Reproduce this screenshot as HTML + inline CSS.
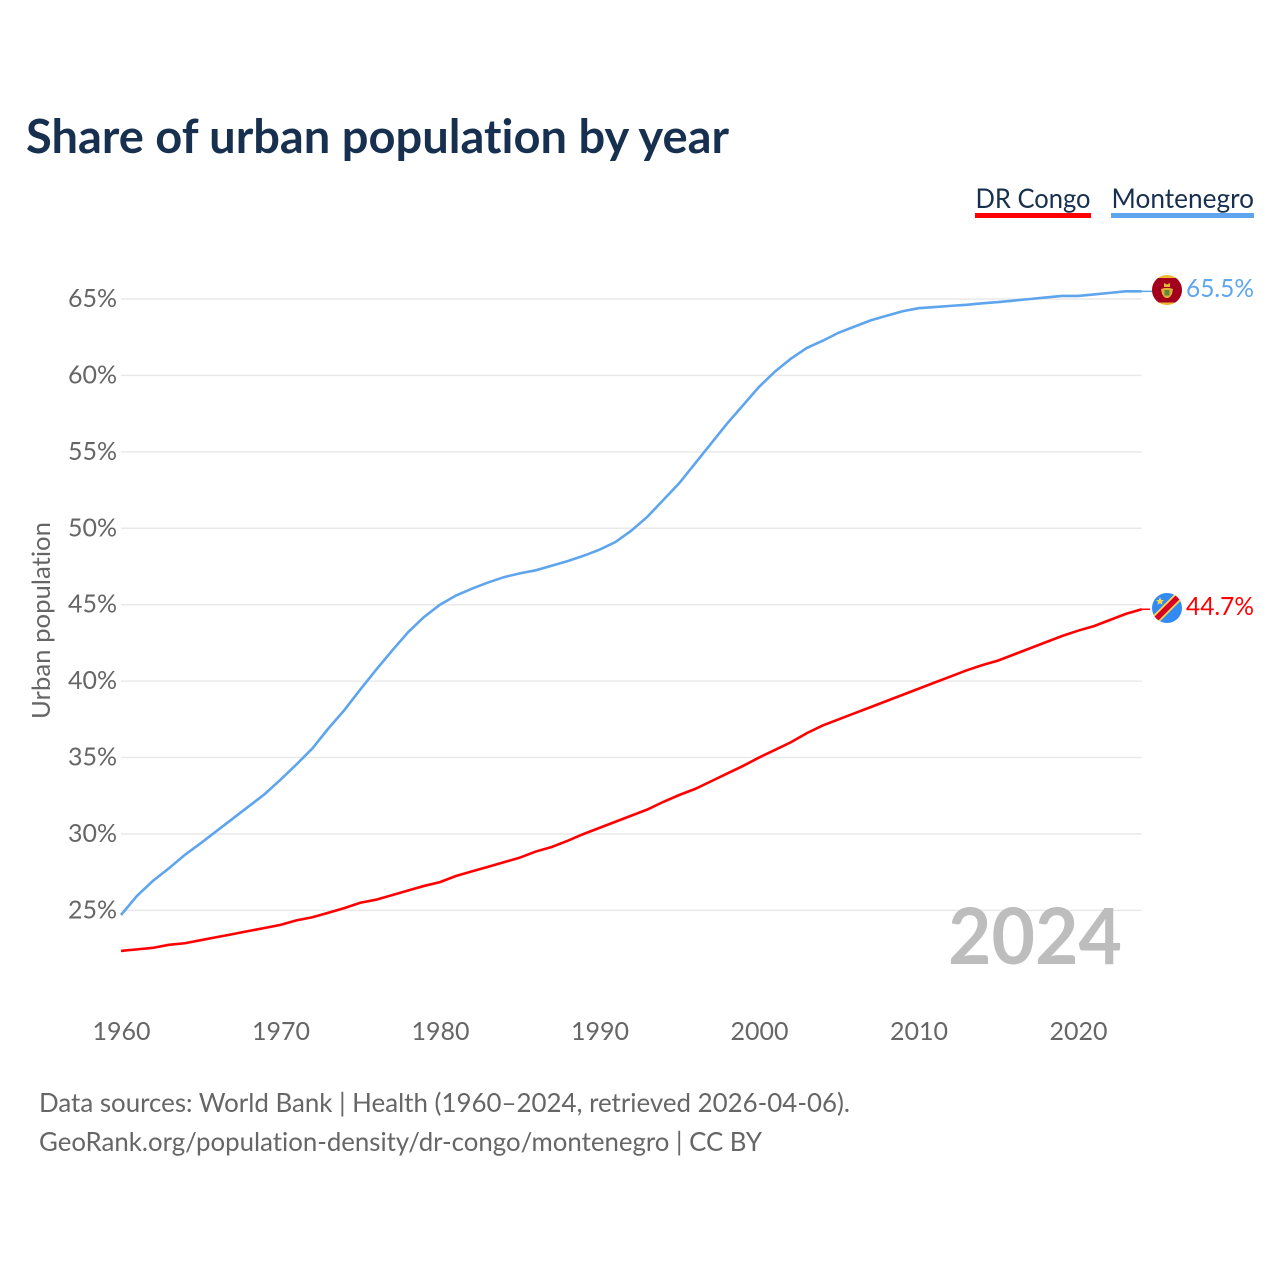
<!DOCTYPE html>
<html lang="en">
<head>
<meta charset="utf-8">
<title>Share of urban population by year</title>
<style>
html,body{margin:0;padding:0;background:#fff;}
svg{display:block;font-family:"Lato","Carlito","Liberation Sans",sans-serif;font-variant-ligatures:none;font-feature-settings:"liga" 0,"clig" 0;}
</style>
</head>
<body>
<svg id="chart" xmlns="http://www.w3.org/2000/svg" width="1280" height="1280" viewBox="0 0 1280 1280">
<rect x="0" y="0" width="1280" height="1280" fill="#ffffff"/>
<text x="26" y="153" font-size="47" font-weight="700" fill="#18304f" textLength="703" lengthAdjust="spacingAndGlyphs">Share of urban population by year</text>

<g>
<g>
<text x="975.5" y="208" font-size="27.5" fill="#18304f" textLength="115" lengthAdjust="spacingAndGlyphs">DR Congo</text>
<rect x="975" y="213" width="116" height="5" fill="#ff0000"/>
</g>
<g>
<text x="1111.5" y="208" font-size="27.5" fill="#18304f" textLength="142.5" lengthAdjust="spacingAndGlyphs">Montenegro</text>
<rect x="1111" y="213" width="143" height="5" fill="#5ea5ee"/>
</g>
</g>

<g id="grid"></g>
<g id="yticks"></g>
<g id="xticks"></g>
<text transform="translate(50,620.5) rotate(-90)" text-anchor="middle" font-size="25.5" fill="#666666" textLength="197" lengthAdjust="spacingAndGlyphs">Urban population</text>

<text x="948" y="964" font-size="78" font-weight="700" fill="#bdbdbd" textLength="174" lengthAdjust="spacingAndGlyphs">2024</text>

<g id="series"></g>

<g>
<clipPath id="clip-me"><circle cx="1167" cy="290" r="15"/></clipPath>
<g clip-path="url(#clip-me)">
<rect x="1152" y="275" width="30" height="30" fill="#f2b632"/>
<rect x="1150" y="278" width="34" height="24.5" fill="#a2001d"/>
<polygon points="1164,283 1167,284.5 1170,283 1170,287 1164,287" fill="#e8b83c"/>
<polygon points="1161,289 1164.5,288 1169.5,288 1173,289 1172,294 1170,297 1168,298 1166,298 1164,297 1162,294" fill="#e0ad35"/>
<rect x="1164.5" y="290" width="5" height="5.5" fill="#5f8a3a"/>
</g>
</g>
<g>
<clipPath id="clip-cd"><circle cx="1167" cy="608" r="15"/></clipPath>
<g clip-path="url(#clip-cd)">
<rect x="1152" y="593" width="30" height="30" fill="#338af3"/>
<line x1="1150" y1="625" x2="1184" y2="591" stroke="#ffda44" stroke-width="9"/>
<line x1="1150" y1="625" x2="1184" y2="591" stroke="#d80027" stroke-width="5.5"/>
<polygon points="1160,597 1161.2,600 1164,600.2 1161.8,602 1162.6,604.8 1160,603.2 1157.4,604.8 1158.2,602 1156,600.2 1158.8,600" fill="#ffda44"/>
</g>
</g>

<text x="1186" y="297" font-size="25.5" fill="#5ea5ee" textLength="68" lengthAdjust="spacingAndGlyphs">65.5%</text>
<text x="1186" y="615" font-size="25.5" fill="#ff0000" textLength="68" lengthAdjust="spacingAndGlyphs">44.7%</text>

<text x="39" y="1112" font-size="26" fill="#666666" textLength="811" lengthAdjust="spacingAndGlyphs">Data sources: World Bank | Health (1960–2024, retrieved 2026-04-06).</text>
<text x="39" y="1151" font-size="26" fill="#666666" textLength="723" lengthAdjust="spacingAndGlyphs">GeoRank.org/population-density/dr-congo/montenegro | CC BY</text>
</svg>

<script>
const years = [1960,1961,1962,1963,1964,1965,1966,1967,1968,1969,1970,1971,1972,1973,1974,1975,1976,1977,1978,1979,1980,1981,1982,1983,1984,1985,1986,1987,1988,1989,1990,1991,1992,1993,1994,1995,1996,1997,1998,1999,2000,2001,2002,2003,2004,2005,2006,2007,2008,2009,2010,2011,2012,2013,2014,2015,2016,2017,2018,2019,2020,2021,2022,2023,2024];
const montenegroValues = [24.7,25.95,26.93,27.75,28.63,29.4,30.2,31.0,31.8,32.6,33.55,34.55,35.6,36.9,38.1,39.45,40.75,42.0,43.2,44.2,45,45.6,46.05,46.45,46.8,47.05,47.25,47.55,47.85,48.2,48.6,49.1,49.85,50.75,51.85,52.95,54.25,55.55,56.85,58.05,59.25,60.25,61.1,61.8,62.27,62.8,63.2,63.6,63.9,64.2,64.4,64.47,64.55,64.62,64.72,64.8,64.9,65,65.1,65.2,65.2,65.3,65.4,65.5,65.5];
const congoValues = [22.35,22.45,22.55,22.75,22.85,23.05,23.25,23.45,23.65,23.85,24.05,24.35,24.55,24.85,25.15,25.5,25.7,26,26.3,26.6,26.85,27.25,27.55,27.85,28.15,28.45,28.85,29.15,29.55,30,30.4,30.8,31.2,31.6,32.1,32.55,32.95,33.45,33.95,34.45,35,35.5,36,36.6,37.1,37.5,37.9,38.3,38.7,39.1,39.5,39.9,40.3,40.7,41.05,41.35,41.75,42.15,42.55,42.95,43.3,43.6,44,44.4,44.7];
const yTickValues = [25,30,35,40,45,50,55,60,65];
const xTickValues = [1960,1970,1980,1990,2000,2010,2020];

const NS = 'http://www.w3.org/2000/svg';
function xScale(year) { return 121 + (year - 1960) * 15.95; }
function yScale(value) { return 299 + (65 - value) * 15.285; }

const gridGroup = document.getElementById('grid');
const yTickGroup = document.getElementById('yticks');
const xTickGroup = document.getElementById('xticks');
const seriesGroup = document.getElementById('series');

yTickValues.forEach(function (v) {
  const line = document.createElementNS(NS, 'line');
  
  
  line.setAttribute('x1', xScale(1960));
  line.setAttribute('x2', xScale(2024));
  line.setAttribute('y1', yScale(v));
  line.setAttribute('y2', yScale(v));
  line.setAttribute('stroke', '#e9e9e9');
  line.setAttribute('stroke-width', '1.5');
  gridGroup.appendChild(line);

  const label = document.createElementNS(NS, 'text');
  
  
  label.setAttribute('x', '117');
  label.setAttribute('y', yScale(v) + 8);
  label.setAttribute('text-anchor', 'end');
  label.setAttribute('font-size', '25');
  label.setAttribute('fill', '#666666');
  label.textContent = v + '%';
  yTickGroup.appendChild(label);
});

xTickValues.forEach(function (year) {
  const label = document.createElementNS(NS, 'text');
  
  
  label.setAttribute('x', xScale(year) + 0.5);
  label.setAttribute('y', '1040');
  label.setAttribute('text-anchor', 'middle');
  label.setAttribute('font-size', '25');
  label.setAttribute('fill', '#666666');
  label.textContent = String(year);
  xTickGroup.appendChild(label);
});

function buildPoints(values) {
  return values.map(function (v, i) {
    return xScale(years[i]).toFixed(2) + ',' + yScale(v).toFixed(2);
  }).join(' ');
}

const montenegroLine = document.createElementNS(NS, 'polyline');


montenegroLine.setAttribute('points', buildPoints(montenegroValues));
montenegroLine.setAttribute('fill', 'none');
montenegroLine.setAttribute('stroke', '#5ea5ee');
montenegroLine.setAttribute('stroke-width', '2.6');
seriesGroup.appendChild(montenegroLine);

const congoLine = document.createElementNS(NS, 'polyline');


congoLine.setAttribute('points', buildPoints(congoValues));
congoLine.setAttribute('fill', 'none');
congoLine.setAttribute('stroke', '#ff0000');
congoLine.setAttribute('stroke-width', '2.6');
seriesGroup.appendChild(congoLine);

const montenegroConnector = document.createElementNS(NS, 'line');


montenegroConnector.setAttribute('x1', xScale(2024));
montenegroConnector.setAttribute('x2', '1152');
montenegroConnector.setAttribute('y1', yScale(montenegroValues[montenegroValues.length - 1]));
montenegroConnector.setAttribute('y2', yScale(montenegroValues[montenegroValues.length - 1]));
montenegroConnector.setAttribute('stroke', '#5ea5ee');
montenegroConnector.setAttribute('stroke-width', '1.5');
seriesGroup.appendChild(montenegroConnector);

const congoConnector = document.createElementNS(NS, 'line');


congoConnector.setAttribute('x1', xScale(2024));
congoConnector.setAttribute('x2', '1150');
congoConnector.setAttribute('y1', yScale(congoValues[congoValues.length - 1]));
congoConnector.setAttribute('y2', yScale(congoValues[congoValues.length - 1]));
congoConnector.setAttribute('stroke', '#ff0000');
congoConnector.setAttribute('stroke-width', '1.5');
seriesGroup.appendChild(congoConnector);
</script>
</body>
</html>
